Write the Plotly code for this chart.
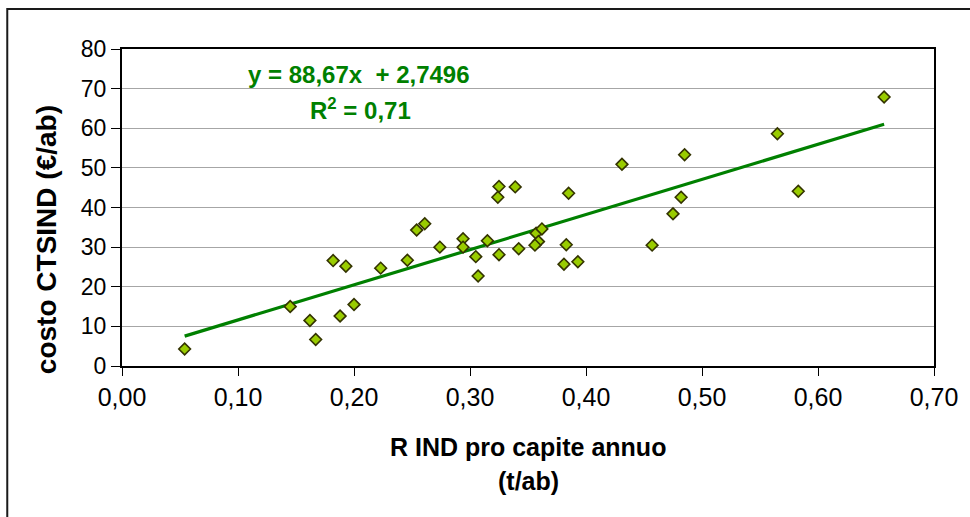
import plotly.graph_objects as go

# R IND pro capite annuo (t/ab) and costo CTSIND (€/ab) for each municipality
r_ind = [0.054, 0.145, 0.162, 0.167, 0.182, 0.193, 0.188, 0.200, 0.223, 0.246,
         0.254, 0.261, 0.274, 0.294, 0.294, 0.305, 0.307, 0.315, 0.325, 0.324,
         0.325, 0.339, 0.342, 0.357, 0.362, 0.359, 0.356, 0.385, 0.383, 0.381,
         0.393, 0.431, 0.457, 0.475, 0.482, 0.485, 0.565, 0.583, 0.657]
costo = [4.3, 15.0, 11.5, 6.7, 26.6, 25.2, 12.6, 15.5, 24.7, 26.7,
         34.3, 35.9, 30.0, 32.1, 30.0, 27.6, 22.7, 31.6, 45.3, 42.6,
         28.1, 45.2, 29.6, 33.5, 34.6, 31.4, 30.5, 43.6, 30.6, 25.7,
         26.3, 50.9, 30.5, 38.4, 42.6, 53.3, 58.6, 44.1, 67.9]

# linear trendline as stated in the label
slope = 88.67
intercept = 2.7496
r2 = 0.71

x_ticks = [0.0, 0.1, 0.2, 0.3, 0.4, 0.5, 0.6, 0.7]
y_ticks = [0, 10, 20, 30, 40, 50, 60, 70, 80]

FONT = "Arial, Liberation Sans, sans-serif"

x_line = [min(r_ind), max(r_ind)]
y_line = [slope * v + intercept for v in x_line]

fig = go.Figure()
fig.add_trace(go.Scatter(
    x=x_line, y=y_line, mode="lines",
    line=dict(color="#008000", width=3.2),
    hoverinfo="skip", showlegend=False,
))
fig.add_trace(go.Scatter(
    x=r_ind, y=costo, mode="markers",
    marker=dict(symbol="diamond", size=9, color="#99CC00",
                line=dict(color="#333300", width=1.6)),
    showlegend=False,
))

fig.update_layout(
    width=970, height=517,
    margin=dict(l=122, r=34, t=49, b=151),
    paper_bgcolor="white", plot_bgcolor="white",
    separators=",.",
    font=dict(family=FONT, color="black"),
    xaxis=dict(
        range=[0, 0.7], tickvals=x_ticks, tickformat=".2f",
        showgrid=False, zeroline=False,
        showline=True, linecolor="black", linewidth=2, mirror=True,
        ticks="outside", ticklen=8, tickcolor="black", tickwidth=1,
        tickfont=dict(size=25, family=FONT, color="black"),
    ),
    yaxis=dict(
        range=[0, 80], tickvals=y_ticks,
        showgrid=True, gridcolor="#A6A6A6", gridwidth=1, zeroline=False,
        showline=True, linecolor="black", linewidth=2, mirror=True,
        ticks="outside", ticklen=9, tickcolor="black", tickwidth=1,
        tickfont=dict(size=23, family=FONT, color="black"),
    ),
    annotations=[
        dict(text=f"y = {slope:.2f}x  + {intercept:.4f}".replace(".", ","),
             xref="paper", yref="paper", x=0.2924, y=0.9196,
             xanchor="center", yanchor="middle", showarrow=False,
             font=dict(size=24, family=FONT, color="#008000", weight="bold")),
        dict(text=f"R<sup>2</sup> = {r2:.2f}".replace(".", ","),
             xref="paper", yref="paper", x=0.2936, y=0.812,
             xanchor="center", yanchor="middle", showarrow=False,
             font=dict(size=24, family=FONT, color="#008000", weight="bold")),
        dict(text="R IND pro capite annuo",
             xref="paper", yref="paper", x=0.5, y=-0.2555,
             xanchor="center", yanchor="middle", showarrow=False,
             font=dict(size=25, family=FONT, color="black", weight="bold")),
        dict(text="(t/ab)",
             xref="paper", yref="paper", x=0.5, y=-0.3628,
             xanchor="center", yanchor="middle", showarrow=False,
             font=dict(size=25, family=FONT, color="black", weight="bold")),
        dict(text="costo CTSIND (€/ab)",
             xref="paper", yref="paper", x=-0.092, y=0.398,
             xanchor="center", yanchor="middle", textangle=-90, showarrow=False,
             font=dict(size=28, family=FONT, color="black", weight="bold")),
    ],
    shapes=[
        dict(type="path", xref="paper", yref="paper",
             path="M -0.1413,-0.48 L -0.1413,1.126 L 1.05,1.126",
             line=dict(color="#1a1a1a", width=2)),
    ],
)

fig.write_html("out.html")
